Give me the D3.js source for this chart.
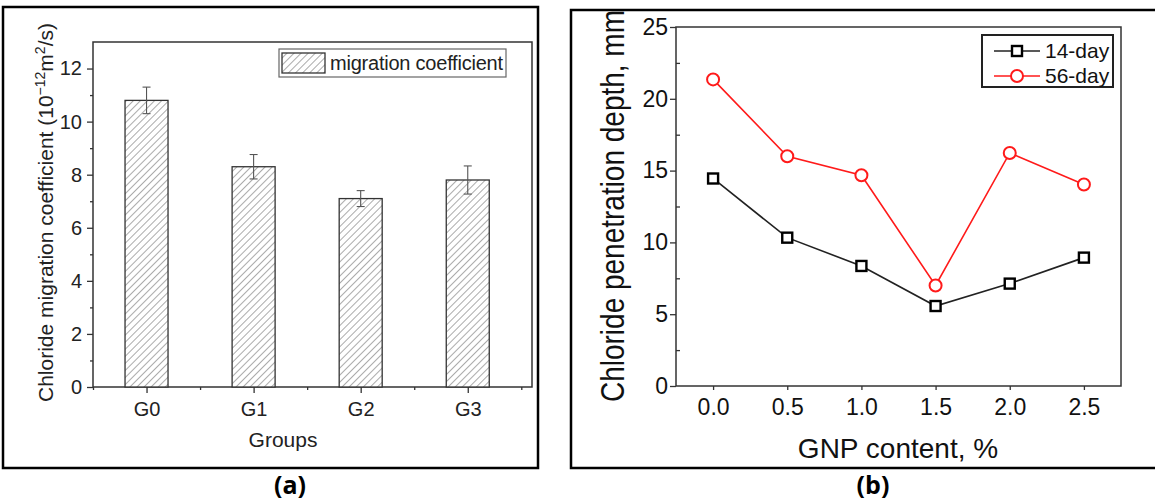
<!DOCTYPE html>
<html>
<head>
<meta charset="utf-8">
<script src="https://cdn.jsdelivr.net/npm/d3@7"></script>
<style>
  body { margin: 0; background: #fff; }
  svg { display: block; }
  text { font-family: "Liberation Sans", Arial, sans-serif; }
</style>
</head>
<body>
<svg id="chart"></svg>
<script>
// panel (a) data
const groups = ["G0", "G1", "G2", "G3"];
const migrationCoef = [10.8, 8.3, 7.1, 7.8];
const migrationErr = [0.5, 0.46, 0.3, 0.53];
const coefTicks = [0, 2, 4, 6, 8, 10, 12];

// panel (b) data
const gnpContent = [0.0, 0.5, 1.0, 1.5, 2.0, 2.5];
const depth14 = [14.45, 10.33, 8.36, 5.57, 7.13, 8.94];
const depth56 = [21.35, 16.0, 14.68, 7.0, 16.23, 14.03];
const depthTicks = [0, 5, 10, 15, 20, 25];
const seriesNames = ["14-day", "56-day"];

const WIDTH = 1155;
const HEIGHT = 501;

const svg = d3.select('#chart').attr('width', WIDTH).attr('height', HEIGHT);

const defs = svg.append('defs');
const hatch = defs.append('pattern')
    .attr('id', 'hatch')
    .attr('patternUnits', 'userSpaceOnUse')
    .attr('width', 5).attr('height', 5)
    .attr('patternTransform', 'rotate(45)');
hatch.append('rect').attr('width', 5).attr('height', 5).attr('fill', '#fff');
hatch.append('line')
    .attr('x1', 0).attr('y1', 0).attr('x2', 0).attr('y2', 5)
    .attr('stroke', '#666').attr('stroke-width', 1.1);

// ---------- panel (a) ----------
const A_LEFT = 93, A_RIGHT = 532, A_TOP = 42, A_BOTTOM = 387;

svg.append('rect')
    .attr('x', 3).attr('y', 7).attr('width', 535).attr('height', 461)
    .attr('fill', 'none').attr('stroke', '#000').attr('stroke-width', 2.5);

const xA = d3.scaleLinear().domain([-0.5, 3.6]).range([A_LEFT, A_RIGHT]);
const yA = d3.scaleLinear().domain([0, 13]).range([A_BOTTOM, A_TOP]);

const gA = svg.append('g');

// frame of plot
gA.append('rect')
    .attr('x', A_LEFT).attr('y', A_TOP)
    .attr('width', A_RIGHT - A_LEFT).attr('height', A_BOTTOM - A_TOP)
    .attr('fill', 'none').attr('stroke', '#333').attr('stroke-width', 1.5);

const barW = 43;
gA.selectAll('.bar')
    .data(migrationCoef)
    .join('rect')
    .attr('class', 'bar')
    .attr('x', (d, i) => xA(i) - barW / 2)
    .attr('y', d => yA(d))
    .attr('width', barW)
    .attr('height', d => yA(0) - yA(d))
    .attr('fill', 'url(#hatch)')
    .attr('stroke', '#333')
    .attr('stroke-width', 1.3);

// error bars
const errs = gA.selectAll('.err')
    .data(migrationCoef.map((v, i) => ({ v, e: migrationErr[i], i })))
    .join('g').attr('class', 'err')
    .attr('stroke', '#555').attr('stroke-width', 1.1);
errs.append('line')
    .attr('x1', d => xA(d.i)).attr('x2', d => xA(d.i))
    .attr('y1', d => yA(d.v - d.e)).attr('y2', d => yA(d.v + d.e));
errs.append('line')
    .attr('x1', d => xA(d.i) - 4).attr('x2', d => xA(d.i) + 4)
    .attr('y1', d => yA(d.v + d.e)).attr('y2', d => yA(d.v + d.e));
errs.append('line')
    .attr('x1', d => xA(d.i) - 4).attr('x2', d => xA(d.i) + 4)
    .attr('y1', d => yA(d.v - d.e)).attr('y2', d => yA(d.v - d.e));

// y axis (a)
gA.append('g')
    .attr('transform', `translate(${A_LEFT},0)`)
    .call(d3.axisLeft(yA).tickValues(coefTicks).tickSize(6).tickPadding(5).tickSizeOuter(0));
gA.append('g')
    .attr('transform', `translate(${A_LEFT},0)`)
    .call(d3.axisLeft(yA).tickValues([1, 3, 5, 7, 9, 11]).tickSize(3).tickFormat('').tickSizeOuter(0));

// x axis (a)
gA.append('g')
    .attr('transform', `translate(0,${A_BOTTOM})`)
    .call(d3.axisBottom(xA).tickValues([0, 1, 2, 3]).tickFormat(i => groups[i]).tickSize(6).tickPadding(9).tickSizeOuter(0));
gA.append('g')
    .attr('transform', `translate(0,${A_BOTTOM})`)
    .call(d3.axisBottom(xA).tickValues([-0.5, 0.5, 1.5, 2.5, 3.5]).tickSize(3).tickFormat('').tickSizeOuter(0));

gA.selectAll('.domain').remove();
gA.selectAll('.tick line').attr('stroke', '#333').attr('stroke-width', 1.3);
gA.selectAll('.tick text').attr('font-size', 20).attr('fill', '#222')
    .style('font-family', '"Liberation Sans", Arial, sans-serif');

gA.append('text')
    .attr('x', 283).attr('y', 447)
    .attr('text-anchor', 'middle').attr('font-size', 21).attr('fill', '#222')
    .text('Groups');

const yLabA = gA.append('text')
    .attr('transform', `translate(53,${(A_TOP + A_BOTTOM) / 2 - 2}) rotate(-90)`)
    .attr('text-anchor', 'middle').attr('font-size', 21).attr('fill', '#222');
yLabA.append('tspan').text('Chloride migration coefficient (10');
yLabA.append('tspan').attr('dy', -8).attr('font-size', 14).text('\u221212');
yLabA.append('tspan').attr('dy', 8).text('m');
yLabA.append('tspan').attr('dy', -8).attr('font-size', 14).text('2');
yLabA.append('tspan').attr('dy', 8).text('/s)');

// legend (a)
const legA = gA.append('g');
legA.append('rect')
    .attr('x', 279).attr('y', 49).attr('width', 227).attr('height', 28)
    .attr('fill', '#fff').attr('stroke', '#666').attr('stroke-width', 1.2);
legA.append('rect')
    .attr('x', 282).attr('y', 53).attr('width', 43).attr('height', 20)
    .attr('fill', 'url(#hatch)').attr('stroke', '#333').attr('stroke-width', 1.3);
legA.append('text')
    .attr('x', 330).attr('y', 70).attr('font-size', 20).attr('fill', '#222')
    .attr('textLength', 173)
    .text('migration coefficient');

svg.append('text')
    .attr('x', 290).attr('y', 494)
    .attr('text-anchor', 'middle').attr('font-size', 25).attr('font-weight', 'bold')
    .style('font-family', '"Open Sans", sans-serif')
    .text('(a)');

// ---------- panel (b) ----------
const B_LEFT = 676, B_RIGHT = 1121, B_TOP = 27, B_BOTTOM = 386;

svg.append('path')
    .attr('d', `M1160,10 H571 V468 H1160`)
    .attr('fill', 'none').attr('stroke', '#000').attr('stroke-width', 2.5);

const xB = d3.scaleLinear().domain([-0.25, 2.75]).range([B_LEFT, B_RIGHT]);
const yB = d3.scaleLinear().domain([0, 25]).range([B_BOTTOM, B_TOP]);

const gB = svg.append('g');

gB.append('rect')
    .attr('x', B_LEFT).attr('y', B_TOP)
    .attr('width', B_RIGHT - B_LEFT).attr('height', B_BOTTOM - B_TOP)
    .attr('fill', 'none').attr('stroke', '#333').attr('stroke-width', 1.5);

gB.append('g')
    .attr('transform', `translate(${B_LEFT},0)`)
    .call(d3.axisLeft(yB).tickValues(depthTicks).tickSize(6).tickPadding(2).tickSizeOuter(0));
gB.append('g')
    .attr('transform', `translate(${B_LEFT},0)`)
    .call(d3.axisLeft(yB).tickValues([2.5, 7.5, 12.5, 17.5, 22.5]).tickSizeInner(-4).tickFormat('').tickSizeOuter(0));
gB.append('g')
    .attr('transform', `translate(0,${B_BOTTOM})`)
    .call(d3.axisBottom(xB).tickValues(gnpContent).tickFormat(d3.format('.1f')).tickSize(4).tickPadding(9).tickSizeOuter(0));

gB.selectAll('.domain').remove();
gB.selectAll('.tick line').attr('stroke', '#333').attr('stroke-width', 1.3);
gB.selectAll('.tick text').attr('font-size', 23).attr('fill', '#111')
    .style('font-family', '"Liberation Sans", Arial, sans-serif');

gB.append('text')
    .attr('x', 898).attr('y', 458)
    .attr('text-anchor', 'middle').attr('font-size', 28).attr('fill', '#111')
    .text('GNP content, %');

defs.append('clipPath').attr('id', 'clipB')
    .append('rect').attr('x', 572).attr('y', 11).attr('width', 583).attr('height', 456);
gB.append('g')
    .attr('clip-path', 'url(#clipB)')
    .append('text')
    .attr('transform', `translate(624,402) scale(1.2,1) rotate(-90)`)
    .attr('text-anchor', 'start').attr('font-size', 28).attr('fill', '#111')
    .text('Chloride penetration depth, mm');

const lineB = d3.line().x((d, i) => xB(gnpContent[i])).y(d => yB(d));

gB.append('path').datum(depth14)
    .attr('d', lineB).attr('fill', 'none').attr('stroke', '#222').attr('stroke-width', 1.6);
gB.append('path').datum(depth56)
    .attr('d', lineB).attr('fill', 'none').attr('stroke', '#ff1a1a').attr('stroke-width', 1.6);

gB.selectAll('.sq')
    .data(depth14)
    .join('rect').attr('class', 'sq')
    .attr('x', (d, i) => xB(gnpContent[i]) - 5)
    .attr('y', d => yB(d) - 5)
    .attr('width', 10).attr('height', 10)
    .attr('fill', '#fff').attr('stroke', '#000').attr('stroke-width', 2.4);
gB.selectAll('.ci')
    .data(depth56)
    .join('circle').attr('class', 'ci')
    .attr('cx', (d, i) => xB(gnpContent[i]))
    .attr('cy', d => yB(d))
    .attr('r', 6)
    .attr('fill', '#fff').attr('stroke', '#ff1a1a').attr('stroke-width', 2);

// legend (b)
const legB = gB.append('g');
legB.append('rect')
    .attr('x', 982).attr('y', 35).attr('width', 131).attr('height', 52)
    .attr('fill', '#fff').attr('stroke', '#222').attr('stroke-width', 2);
const legRows = legB.selectAll('.row')
    .data(seriesNames)
    .join('g').attr('class', 'row')
    .attr('transform', (d, i) => `translate(0,${51 + i * 25})`);
legRows.append('line')
    .attr('x1', 994).attr('x2', 1040).attr('y1', 0).attr('y2', 0)
    .attr('stroke', (d, i) => i === 0 ? '#222' : '#ff1a1a').attr('stroke-width', 1.6);
legRows.filter((d, i) => i === 0).append('rect')
    .attr('x', 1012).attr('y', -5).attr('width', 10).attr('height', 10)
    .attr('fill', '#fff').attr('stroke', '#000').attr('stroke-width', 2.4);
legRows.filter((d, i) => i === 1).append('circle')
    .attr('cx', 1017).attr('cy', 0).attr('r', 6)
    .attr('fill', '#fff').attr('stroke', '#ff1a1a').attr('stroke-width', 2);
legRows.append('text')
    .attr('x', 1045).attr('y', 7).attr('font-size', 21).attr('fill', '#111')
    .text(d => d);

svg.append('text')
    .attr('x', 873).attr('y', 494)
    .attr('text-anchor', 'middle').attr('font-size', 25).attr('font-weight', 'bold')
    .style('font-family', '"Open Sans", sans-serif')
    .text('(b)');
</script>
</body>
</html>
